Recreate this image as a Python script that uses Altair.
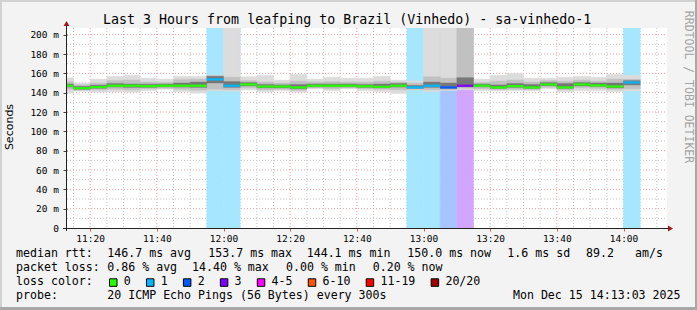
import altair as alt
import pandas as pd

# ---------------- data ----------------
times = ["11:10", "11:15", "11:20", "11:25", "11:30", "11:35", "11:40", "11:45", "11:50", "11:55",
         "12:00", "12:05", "12:10", "12:15", "12:20", "12:25", "12:30", "12:35", "12:40", "12:45",
         "12:50", "12:55", "13:00", "13:05", "13:10", "13:15", "13:20", "13:25", "13:30", "13:35",
         "13:40", "13:45", "13:50", "13:55", "14:00"]
median_rtt = [147.2, 144.6, 145.8, 147.2, 147.2, 146.8, 147.2, 147.2, 147.2, 153.7,
              147.2, 148.5, 146.4, 146.4, 145.4, 147.2, 147.2, 147.2, 146.6, 146.1,
              147.2, 145.4, 147.2, 145.4, 147.2, 147.2, 145.4, 146.8, 145.4, 148.5,
              145.4, 148.5, 147.5, 146.4, 150.6]
loss_count = [0, 0, 0, 0, 0, 0, 0, 0, 0, 1,
              1, 0, 0, 0, 0, 0, 0, 0, 0, 0,
              0, 1, 1, 2, 3, 0, 0, 0, 0, 0,
              0, 0, 0, 0, 1]
smoke_outer_hi = [155.4, 150.0, 154.0, 157.0, 158.0, 155.0, 154.0, 157.0, 157.0, 158.0,
                  206.9, 156.5, 158.0, 153.0, 159.0, 154.0, 156.0, 155.0, 155.0, 157.0,
                  153.0, 152.0, 206.9, 206.9, 206.9, 154.0, 158.0, 160.0, 155.0, 155.0,
                  156.0, 157.0, 156.0, 159.0, 158.0]
smoke_outer_lo = [139.5, 141.5, 140.5, 141.0, 140.5, 142.0, 143.5, 141.0, 139.5, 142.0,
                  141.5, 142.7, 141.0, 142.0, 140.5, 144.0, 142.0, 144.0, 142.0, 141.0,
                  139.0, 142.7, 141.0, 142.0, 143.0, 142.0, 142.0, 142.0, 142.0, 144.0,
                  141.0, 142.0, 142.0, 141.0, 141.7]
smoke_mid_hi = [151.5, 148.0, 150.0, 152.5, 153.0, 151.0, 150.5, 153.5, 154.0, 157.5,
                156.0, 152.5, 151.0, 150.0, 152.0, 151.0, 151.5, 151.0, 151.0, 152.0,
                151.0, 150.0, 156.5, 155.0, 206.9, 150.5, 152.0, 153.0, 151.0, 152.5,
                152.0, 153.0, 152.0, 154.0, 154.0]
smoke_mid_lo = [143.5, 142.5, 143.0, 143.5, 143.0, 144.0, 144.5, 143.5, 142.5, 143.5,
                143.0, 145.0, 143.0, 143.5, 142.5, 145.0, 144.0, 145.0, 144.0, 143.5,
                143.0, 143.5, 143.0, 143.0, 144.5, 144.0, 143.0, 143.5, 143.0, 145.5,
                143.0, 145.0, 144.5, 143.5, 144.0]
smoke_inner_hi = [149.0, 146.5, 147.8, 149.5, 149.0, 148.8, 149.0, 150.0, 151.0, 157.0,
                  151.5, 150.5, 148.5, 148.0, 148.5, 149.0, 149.0, 149.0, 148.5, 149.0,
                  149.5, 147.5, 151.0, 150.0, 155.5, 149.0, 148.0, 149.5, 148.5, 150.5,
                  149.5, 150.5, 150.0, 150.0, 152.5]
smoke_inner_lo = [145.8, 143.5, 144.5, 145.8, 145.5, 145.5, 146.0, 145.8, 145.5, 150.0,
                  145.5, 147.0, 145.0, 145.0, 144.0, 146.0, 146.0, 146.0, 145.5, 145.0,
                  145.8, 144.5, 145.5, 144.5, 146.0, 146.0, 144.5, 145.5, 144.5, 147.2,
                  144.5, 147.0, 146.5, 145.0, 148.0]

loss_labels = ["0", "1", "2", "3", "4-5", "6-10", "11-19", "20/20"]
loss_colors = ["#26ff00", "#00b8ff", "#0059ff", "#7e00ff", "#ff00ff", "#ff5500", "#ff0000", "#a10000"]

rtt_avg, rtt_max, rtt_min, rtt_now, rtt_sd, rtt_ams = 146.7, 153.7, 144.1, 150.0, 1.6, 89.2
loss_avg, loss_max, loss_min, loss_now = 0.86, 14.40, 0.00, 0.20

title = "Last 3 Hours from leafping to Brazil (Vinhedo) - sa-vinhedo-1"
probe_text = "20 ICMP Echo Pings (56 Bytes) every 300s"
stamp = "Mon Dec 15 14:13:03 2025"

y_labels = list(range(0, 201, 20))
x_label_minutes = [680, 700, 720, 740, 760, 780, 800, 820, 840]
t_start = 11 * 60 + 13 + 3 / 60
t_end = 14 * 60 + 13 + 3 / 60
y_top = 206.9

# ---------------- layout / style ----------------
L, T = 67, 28
W, H = 600, 200
MONO = "DejaVu Sans Mono"


def loss_index(n):
    if n <= 3:
        return n
    if n <= 5:
        return 4
    if n <= 10:
        return 5
    if n <= 19:
        return 6
    return 7


def light(hex_color, a=0.35):
    r, g, b = int(hex_color[1:3], 16), int(hex_color[3:5], 16), int(hex_color[5:7], 16)
    mix = lambda c: round(255 * (1 - a) + c * a)
    return "#%02x%02x%02x" % (mix(r), mix(g), mix(b))


def to_min(s):
    h, m = s.split(":")
    return int(h) * 60 + int(m)


df = pd.DataFrame({
    "start": [to_min(t) for t in times],
    "median": median_rtt,
    "loss": loss_count,
    "o_hi": smoke_outer_hi, "o_lo": smoke_outer_lo,
    "m_hi": smoke_mid_hi, "m_lo": smoke_mid_lo,
    "i_hi": smoke_inner_hi, "i_lo": smoke_inner_lo,
})
df["end"] = df["start"] + 5
df["lc"] = [loss_colors[loss_index(n)] for n in loss_count]
df["bg"] = [light(c) for c in df["lc"]]
df["zero"] = 0.0
df["top"] = y_top
loss_df = df[df["loss"] > 0]

x_scale = alt.Scale(domain=[t_start, t_end], nice=False, zero=False)
y_scale = alt.Scale(domain=[0, y_top], nice=False, zero=True)

x_axis = alt.Axis(values=x_label_minutes, title=None, grid=False, domain=False,
                  labelExpr="floor(datum.value/60) + ':' + (datum.value%60 < 10 ? '0' : '') + (datum.value%60)",
                  tickSize=3, tickColor="#e06060", labelFont=MONO, labelFontSize=9.5,
                  labelColor="#000000", labelPadding=2, labelFlush=False, labelOverlap=False)
y_axis = alt.Axis(values=y_labels, title=None, grid=False, domain=False,
                  labelExpr="datum.value == 0 ? '0\u00a0\u00a0' : datum.value + ' m'",
                  tickSize=4, tickColor="#444444", labelFont=MONO, labelFontSize=9.5,
                  labelColor="#000000", labelPadding=4.5, labelFlush=False, labelOverlap=False)

one = pd.DataFrame({"k": [0]})

# grids
minor_y = pd.DataFrame({"gy": [v for v in range(10, 201, 20)]})
major_y = pd.DataFrame({"gy": [v for v in range(20, 201, 20)]})
minor_x = pd.DataFrame({"gx": [m for m in range(675, 855, 5) if m % 20 != 0]})
major_x = pd.DataFrame({"gx": x_label_minutes})

grid_minor_h = alt.Chart(minor_y).mark_rule(color="#c4c4c4", strokeDash=[1, 2], strokeWidth=1).encode(
    y=alt.Y("gy:Q", scale=y_scale, axis=y_axis), x=alt.value(0), x2=alt.value(W))
grid_major_h = alt.Chart(major_y).mark_rule(color="#eba3a3", strokeDash=[1, 2], strokeWidth=1).encode(
    y=alt.Y("gy:Q", scale=y_scale, axis=y_axis), x=alt.value(0), x2=alt.value(W))
grid_minor_v = alt.Chart(minor_x).mark_rule(color="#c4c4c4", strokeDash=[1, 2], strokeWidth=1).encode(
    x=alt.X("gx:Q", scale=x_scale, axis=x_axis), y=alt.value(0), y2=alt.value(H))
grid_major_v = alt.Chart(major_x).mark_rule(color="#eba3a3", strokeDash=[1, 2], strokeWidth=1).encode(
    x=alt.X("gx:Q", scale=x_scale, axis=x_axis), y=alt.value(0), y2=alt.value(H))

# loss background bands
loss_bands = alt.Chart(loss_df).mark_rect(clip=True, strokeWidth=0.5).encode(
    x=alt.X("start:Q", scale=x_scale, axis=x_axis), x2="end:Q",
    y=alt.Y("zero:Q", scale=y_scale, axis=y_axis), y2="top:Q",
    fill=alt.Fill("bg:N", scale=None), stroke=alt.Stroke("bg:N", scale=None))


def smoke(lo, hi, color):
    return alt.Chart(df).mark_rect(clip=True, fill=color, stroke=color, strokeWidth=0.4).encode(
        x=alt.X("start:Q", scale=x_scale, axis=x_axis), x2="end:Q",
        y=alt.Y(f"{lo}:Q", scale=y_scale, axis=y_axis), y2=f"{hi}:Q")


smoke_outer = smoke("o_lo", "o_hi", "#dcdcdc")
smoke_mid = smoke("m_lo", "m_hi", "#c1c1c1")
smoke_inner = smoke("i_lo", "i_hi", "#777777")

median_line = alt.Chart(df).mark_rule(clip=True, strokeWidth=2.2).encode(
    x=alt.X("start:Q", scale=x_scale, axis=x_axis), x2="end:Q",
    y=alt.Y("median:Q", scale=y_scale, axis=y_axis),
    color=alt.Color("lc:N", scale=None))


# ---------------- decorations ----------------
def drect(x1, y1, x2, y2, color):
    return alt.Chart(one).mark_rect(color=color).encode(
        x=alt.value(x1 - L), x2=alt.value(x2 - L), y=alt.value(y1 - T), y2=alt.value(y2 - T))


def dtext(s, x, y, size=11.6, font=MONO, align="left", color="#000000", angle=0):
    return alt.Chart(one).mark_text(text=s, font=font, fontSize=size, align=align,
                                    baseline="middle", color=color, angle=angle).encode(
        x=alt.value(x - L), y=alt.value(y - T))


decor = [
    drect(0, 0, 697, 2, "#d2d2d2"),
    drect(0, 0, 2, 310, "#d2d2d2"),
    drect(695, 0, 697, 310, "#a8a8a8"),
    drect(0, 307, 697, 310, "#a8a8a8"),
]

axis_lines = [
    alt.Chart(one).mark_rule(color="#222222", strokeWidth=1).encode(
        x=alt.value(-0.5), y=alt.value(203), y2=alt.value(-4)),
    alt.Chart(one).mark_rule(color="#222222", strokeWidth=1).encode(
        x=alt.value(-4), x2=alt.value(603), y=alt.value(200.5)),
    alt.Chart(one).mark_point(shape="triangle-up", filled=True, size=34, color="#a01818", opacity=1).encode(
        x=alt.value(-0.5), y=alt.value(-4.5)),
    alt.Chart(one).mark_point(shape="triangle-right", filled=True, size=34, color="#a01818", opacity=1).encode(
        x=alt.value(603.5), y=alt.value(200.5)),
]

texts = [
    dtext(title, 347.2, 19.5, size=13.3, align="center"),
    dtext("Seconds", 10, 127, size=11, font="DejaVu Sans", align="center", angle=270),
    dtext("RRDTOOL / TOBI OETIKER", 688, 87, size=11.5, align="center", color="#a4a4a4", angle=90),
    # line 1
    dtext("median rtt:", 16, 254.3),
    dtext(f"{rtt_avg:.1f} ms avg", 107.3, 254.3),
    dtext(f"{rtt_max:.1f} ms max", 208.3, 254.3),
    dtext(f"{rtt_min:.1f} ms min", 306.7, 254.3),
    dtext(f"{rtt_now:.1f} ms now", 407.3, 254.3),
    dtext(f"{rtt_sd:.1f} ms sd", 507.3, 254.3),
    dtext(f"{rtt_ams:.1f}", 586, 254.3),
    dtext("am/s", 635, 254.3),
    # line 2
    dtext("packet loss:", 16, 268.3),
    dtext(f"{loss_avg:.2f} % avg", 107.3, 268.3),
    dtext(f"{loss_max:.2f} % max", 192, 268.3),
    dtext(f"{loss_min:.2f} % min", 286, 268.3),
    dtext(f"{loss_now:.2f} % now", 372.7, 268.3),
    # line 3
    dtext("loss color:", 16, 282.3),
    # line 4
    dtext("probe:", 16, 296),
    dtext(probe_text, 107.3, 296),
    dtext(stamp, 680.5, 296, align="right"),
]

legend_marks = []
xpos = 109.0
for lab, col in zip(loss_labels, loss_colors):
    legend_marks.append(
        alt.Chart(one).mark_rect(fill=col, stroke="#000000", strokeWidth=1).encode(
            x=alt.value(xpos - L + 0.5), x2=alt.value(xpos - L + 8.0),
            y=alt.value(278.8 - T), y2=alt.value(286.3 - T)))
    legend_marks.append(dtext(lab, xpos + 14.75, 282.3))
    xpos = xpos + 14.75 + len(lab) * 7.0 + 15.2

chart = alt.layer(
    *decor,
    grid_minor_h, grid_minor_v, grid_major_h, grid_major_v,
    loss_bands, smoke_outer, smoke_mid, smoke_inner, median_line,
    *axis_lines, *texts, *legend_marks,
).properties(
    width=W, height=H,
    autosize=alt.AutoSizeParams(type="none"),
    padding={"left": L, "top": T, "right": 697 - L - W, "bottom": 310 - T - H},
    background="#f3f3f3",
).configure_view(fill="white", stroke=None)

chart.save("out.html", embed_options={"renderer": "svg", "actions": False})
